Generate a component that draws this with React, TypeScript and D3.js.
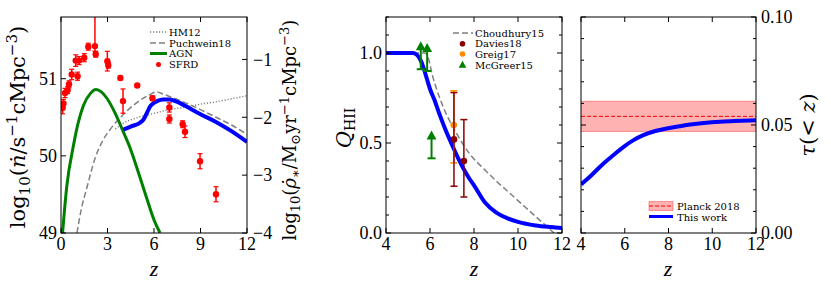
import React from "react";
import * as d3 from "d3";

// ---------------- Panel 1 data ----------------
const p1XTicks = [0, 3, 6, 9, 12];
const p1YTicksL = [49, 50, 51];
const p1YTicksR = [-4, -3, -2, -1];

const agnZ = [0.1, 0.37, 0.8, 1.1, 1.44, 1.9, 2.26, 2.6, 2.95, 3.5, 4.0, 4.5, 5.0, 5.5, 6.0, 6.39];
const agnN = [49.0, 49.6, 50.13, 50.42, 50.65, 50.81, 50.86, 50.83, 50.75, 50.55, 50.32, 50.08, 49.78, 49.47, 49.17, 49.0];

const puchZ = [1.03, 1.3, 1.66, 2.2, 2.7, 3.2, 3.7, 4.24, 4.7, 5.1, 5.7, 6.17, 6.6, 7.25, 8.0, 9.0, 10.0, 11.0, 12.0];
const puchN = [49.0, 49.3, 49.58, 49.97, 50.2, 50.35, 50.47, 50.58, 50.66, 50.72, 50.79, 50.83, 50.8, 50.75, 50.69, 50.6, 50.5, 50.4, 50.28];

const hmZ = [3.5, 4, 5, 6, 7, 8, 9, 10, 11, 12];
const hmN = [50.35, 50.42, 50.5, 50.55, 50.6, 50.63, 50.67, 50.7, 50.74, 50.78];

const thisZ = [4.02, 4.5, 5.1, 5.35, 5.55, 5.75, 5.95, 6.2, 6.6, 7.0, 7.5, 8.0, 9.0, 10.0, 11.0, 12.0];
const thisN = [50.34, 50.38, 50.43, 50.48, 50.56, 50.64, 50.68, 50.71, 50.73, 50.73, 50.7, 50.65, 50.54, 50.44, 50.32, 50.18];

const sfrdZ = [0.1, 0.16, 0.26, 0.43, 0.52, 0.69, 0.95, 1.07, 1.16, 1.5, 1.76, 2.19, 2.24, 2.99, 3.05, 3.83, 4.0, 4.92, 5.9, 6.99, 6.99, 7.85, 8.0, 8.97, 10.0];
const sfrdV = [-1.84, -1.76, -1.58, -1.53, -1.43, -1.26, -1.02, -1.29, -1.02, -0.97, -0.78, -0.77, -0.91, -1.03, -1.1, -1.32, -1.72, -1.45, -1.67, -1.83, -2.03, -2.12, -2.25, -2.76, -3.33];
const sfrdErrLo = [0.1, 0.07, 0.08, 0.06, 0.06, 0.09, 0.1, 0.07, 0.07, 0.07, 0.06, 0.09, 0.05, 0.17, 0.05, 0.03, 0.21, 0.03, 0.04, 0.08, 0.07, 0.06, 0.1, 0.13, 0.13];
const sfrdErrHi = [0.1, 0.07, 0.08, 0.06, 0.06, 0.09, 0.1, 0.07, 0.07, 0.07, 0.06, 0.6, 0.05, 0.17, 0.05, 0.03, 0.21, 0.03, 0.04, 0.08, 0.07, 0.06, 0.1, 0.13, 0.13];

// ---------------- Panel 2 data ----------------
const p2XTicks = [4, 6, 8, 10, 12];
const p2YLabels = ["0.0", "0.5", "1.0"];
const p2YLabelVals = [0, 0.5, 1.0];

const qZ = [4, 5.2, 5.4, 5.55, 5.7, 5.85, 6.0, 6.2, 6.4, 6.7, 7.0, 7.3, 7.6, 7.8, 8.0, 8.5, 9.0, 9.5, 10, 10.8, 11.5, 12];
const qQ = [1, 1, 0.99, 0.965, 0.92, 0.86, 0.8, 0.74, 0.67, 0.575, 0.49, 0.41, 0.34, 0.3, 0.265, 0.17, 0.115, 0.083, 0.062, 0.042, 0.033, 0.028];

const choZ = [4, 5.8, 5.95, 6.1, 6.3, 6.6, 7.2, 7.8, 8.5, 9.0, 9.5, 10.0, 10.5, 11.0, 11.5, 11.8];
const choQ = [1, 1, 0.96, 0.88, 0.8, 0.7, 0.555, 0.44, 0.35, 0.29, 0.235, 0.18, 0.125, 0.07, 0.015, -0.02];

const daviesZ = [7.09, 7.54];
const daviesQ = [0.52, 0.4];
const daviesLo = [0.26, 0.2];
const daviesHi = [0.78, 0.63];

const greigZ = [7.08];
const greigQ = [0.6];
const greigLo = [0.39];
const greigHi = [0.79];

const mcgZ = [5.58, 5.87, 6.07];
const mcgQ = [0.91, 0.9, 0.415];

// ---------------- Panel 3 data ----------------
const p3XTicks = [4, 6, 8, 10, 12];
const p3YLabels = ["0.00", "0.05", "0.10"];
const p3YLabelVals = [0, 0.05, 0.1];

const tauZ = [4, 4.5, 5.03, 5.5, 5.95, 6.4, 6.85, 7.4, 7.92, 8.5, 9.0, 10.35, 11, 12];
const tauV = [0.0225, 0.027, 0.0322, 0.0362, 0.0399, 0.043, 0.0453, 0.0472, 0.0484, 0.0494, 0.0502, 0.0515, 0.0518, 0.0522];

const planckTau = 0.054;
const planckSig = 0.007;

const FT = { fontFamily: "Liberation Serif" };
const FL = { fontFamily: "DejaVu Serif" };

const TOP = 17, BOT = 233;
const MAJ = 5, MIN = 3;

function Frame({ x0, x1 }: { x0: number; x1: number }) {
  return <rect x={x0} y={TOP} width={x1 - x0} height={BOT - TOP} fill="none" stroke="#000" strokeWidth={1} />;
}

function XTicks({ ticks, sx }: { ticks: number[]; sx: d3.ScaleLinear<number, number> }) {
  return (
    <g>
      {ticks.map((t) => (
        <g key={t}>
          <line x1={sx(t)} x2={sx(t)} y1={BOT} y2={BOT - MAJ} stroke="#000" strokeWidth={1} />
          <line x1={sx(t)} x2={sx(t)} y1={TOP} y2={TOP + MAJ} stroke="#000" strokeWidth={1} />
          <text x={sx(t)} y={250} textAnchor="middle" style={FT} fontSize={18}>
            {String(t)}
          </text>
        </g>
      ))}
    </g>
  );
}

function zip(a: number[], b: number[]): [number, number][] {
  return a.map((v, i) => [v, b[i]] as [number, number]);
}

export default function App() {
  const x1 = d3.scaleLinear().domain([0, 12]).range([61, 247]);
  const y1 = d3.scaleLinear().domain([49, 51.8]).range([BOT, TOP]);
  const y1r = d3.scaleLinear().domain([-4, -4 + (2.8 * 4) / 3]).range([BOT, TOP]);

  const x2 = d3.scaleLinear().domain([4, 12]).range([386, 562]);
  const y2 = d3.scaleLinear().domain([0, 1.2]).range([BOT, TOP]);

  const x3 = d3.scaleLinear().domain([4, 12]).range([581, 756]);
  const y3 = d3.scaleLinear().domain([0, 0.1]).range([BOT, TOP]);

  const l1 = d3.line<[number, number]>().x((d) => x1(d[0])).y((d) => y1(d[1])).curve(d3.curveMonotoneX);
  const l2 = d3.line<[number, number]>().x((d) => x2(d[0])).y((d) => y2(d[1])).curve(d3.curveMonotoneX);
  const l3 = d3.line<[number, number]>().x((d) => x3(d[0])).y((d) => y3(d[1])).curve(d3.curveMonotoneX);

  const p2Minor = d3.range(0, 13).map((i) => i / 10);
  const p3Minor = d3.range(0, 11).map((i) => i / 100);

  const tri = (cx: number, cy: number, s: number) =>
    `M${cx},${cy - s * 0.6}L${cx + s * 0.55},${cy + s * 0.4}L${cx - s * 0.55},${cy + s * 0.4}Z`;

  return (
    <svg width={831} height={290} style={{ position: "absolute", left: 0, top: 0, background: "#fff" }}>
      <defs>
        <clipPath id="c1"><rect x={61} y={TOP} width={186} height={BOT - TOP} /></clipPath>
        <clipPath id="c2"><rect x={386} y={TOP} width={176} height={BOT - TOP} /></clipPath>
        <clipPath id="c3"><rect x={581} y={TOP} width={175} height={BOT - TOP} /></clipPath>
      </defs>

      {/* ============ Panel 1 ============ */}
      <g clipPath="url(#c1)">
        <path d={l1(zip(hmZ, hmN)) || ""} fill="none" stroke="#808080" strokeWidth={1.4} strokeDasharray="1.2,1.8" />
        <path d={l1(zip(puchZ, puchN)) || ""} fill="none" stroke="#808080" strokeWidth={1.5} strokeDasharray="6,3" />
        <path d={l1(zip(agnZ, agnN)) || ""} fill="none" stroke="green" strokeWidth={3} />
        <path d={l1(zip(thisZ, thisN)) || ""} fill="none" stroke="blue" strokeWidth={4} />
        {sfrdZ.map((z, i) => {
          const cx = x1(z);
          const yc = y1r(sfrdV[i]);
          const yt = y1r(sfrdV[i] + sfrdErrHi[i]);
          const yb = y1r(sfrdV[i] - sfrdErrLo[i]);
          return (
            <g key={i}>
              <line x1={cx} x2={cx} y1={yt} y2={yb} stroke="red" strokeWidth={1.5} />
              <line x1={cx - 2.5} x2={cx + 2.5} y1={yt} y2={yt} stroke="red" strokeWidth={1.2} />
              <line x1={cx - 2.5} x2={cx + 2.5} y1={yb} y2={yb} stroke="red" strokeWidth={1.2} />
              <circle cx={cx} cy={yc} r={3.2} fill="red" />
            </g>
          );
        })}
      </g>
      <Frame x0={61} x1={247} />
      <XTicks ticks={p1XTicks} sx={x1} />
      {p1YTicksL.map((t) => (
        <g key={t}>
          <line x1={61} x2={61 + MAJ} y1={y1(t)} y2={y1(t)} stroke="#000" />
          <text x={57} y={y1(t)} dy="0.35em" textAnchor="end" style={FT} fontSize={18}>{String(t)}</text>
        </g>
      ))}
      {p1YTicksR.map((t) => (
        <g key={t}>
          <line x1={247} x2={247 - MAJ} y1={y1r(t)} y2={y1r(t)} stroke="#000" />
          <text x={253} y={y1r(t)} dy="0.35em" textAnchor="start" style={FT} fontSize={18}>{"\u2212" + Math.abs(t)}</text>
        </g>
      ))}
      {/* legend 1 */}
      <g style={FL} fontSize={10}>
        <line x1={150} x2={167} y1={32} y2={32} stroke="#808080" strokeWidth={1.4} strokeDasharray="1.2,1.8" />
        <text x={169} y={35.5}>HM12</text>
        <line x1={150} x2={167} y1={43} y2={43} stroke="#808080" strokeWidth={1.5} strokeDasharray="6,3" />
        <text x={169} y={46.5}>Puchwein18</text>
        <line x1={150} x2={167} y1={53.5} y2={53.5} stroke="green" strokeWidth={3} />
        <text x={169} y={57}>AGN</text>
        <circle cx={158.5} cy={64.5} r={2.5} fill="red" />
        <text x={169} y={68}>SFRD</text>
      </g>
      {/* axis labels 1 */}
      <text transform="translate(25,127) rotate(-90)" textAnchor="middle" style={FL} fontSize={21}>
        log<tspan fontSize={15} dy={5}>10</tspan>
        <tspan dy={-5}>(</tspan>
        <tspan fontStyle="italic">{"\u1E45"}</tspan>/s<tspan fontSize={15} dy={-8}>{"\u22121"}</tspan>
        <tspan dy={8}>cMpc</tspan>
        <tspan fontSize={15} dy={-8}>{"\u22123"}</tspan>
        <tspan dy={8}>)</tspan>
      </text>
      <text transform="translate(296,130) rotate(-90)" textAnchor="middle" style={FL} fontSize={18}>
        log<tspan fontSize={13} dy={4}>10</tspan>
        <tspan dy={-4}>(</tspan>
        <tspan fontStyle="italic">{"\u03C1\u0307"}</tspan>
        <tspan fontSize={13} dy={4}>{"\u2217"}</tspan>
        <tspan dy={-4}>/M</tspan>
        <tspan fontSize={13} dy={4}>{"\u2299"}</tspan>
        <tspan dy={-4}>yr</tspan>
        <tspan fontSize={13} dy={-7}>{"\u22121"}</tspan>
        <tspan dy={7}>cMpc</tspan>
        <tspan fontSize={13} dy={-7}>{"\u22123"}</tspan>
        <tspan dy={7}>)</tspan>
      </text>
      <text x={154} y={276} textAnchor="middle" style={FT} fontStyle="italic" fontSize={22}>z</text>

      {/* ============ Panel 2 ============ */}
      <g clipPath="url(#c2)">
        <path d={l2(zip(choZ, choQ)) || ""} fill="none" stroke="#808080" strokeWidth={1.5} strokeDasharray="6,3" />
        <path d={l2(zip(qZ, qQ)) || ""} fill="none" stroke="blue" strokeWidth={4} />
        {greigZ.map((z, i) => {
          const cx = x2(z);
          return (
            <g key={"g" + i}>
              <line x1={cx} x2={cx} y1={y2(greigHi[i])} y2={y2(greigLo[i])} stroke="darkorange" strokeWidth={1.5} />
              <line x1={cx - 3.5} x2={cx + 3.5} y1={y2(greigHi[i])} y2={y2(greigHi[i])} stroke="darkorange" strokeWidth={1.5} />
              <line x1={cx - 3.5} x2={cx + 3.5} y1={y2(greigLo[i])} y2={y2(greigLo[i])} stroke="darkorange" strokeWidth={1.5} />
              <circle cx={cx} cy={y2(greigQ[i])} r={3.3} fill="darkorange" />
            </g>
          );
        })}
        {daviesZ.map((z, i) => {
          const cx = x2(z);
          return (
            <g key={"d" + i}>
              <line x1={cx} x2={cx} y1={y2(daviesHi[i])} y2={y2(daviesLo[i])} stroke="darkred" strokeWidth={1.5} />
              <line x1={cx - 3.5} x2={cx + 3.5} y1={y2(daviesHi[i])} y2={y2(daviesHi[i])} stroke="darkred" strokeWidth={1.5} />
              <line x1={cx - 3.5} x2={cx + 3.5} y1={y2(daviesLo[i])} y2={y2(daviesLo[i])} stroke="darkred" strokeWidth={1.5} />
              <circle cx={cx} cy={y2(daviesQ[i])} r={3.3} fill="darkred" />
            </g>
          );
        })}
        {mcgZ.map((z, i) => {
          const cx = x2(z);
          const yb = y2(mcgQ[i]);
          const yt = y2(mcgQ[i] + 0.125);
          return (
            <g key={"m" + i}>
              <line x1={cx} x2={cx} y1={yb} y2={yt} stroke="green" strokeWidth={2} />
              <line x1={cx - 4} x2={cx + 4} y1={yb} y2={yb} stroke="green" strokeWidth={2} />
              <path d={tri(cx, yt, 9)} fill="green" />
            </g>
          );
        })}
      </g>
      <Frame x0={386} x1={562} />
      <XTicks ticks={p2XTicks} sx={x2} />
      {p2Minor.map((t, i) => {
        const major = i % 5 === 0;
        const L = major ? MAJ : MIN;
        return (
          <g key={i}>
            <line x1={386} x2={386 + L} y1={y2(t)} y2={y2(t)} stroke="#000" />
            <line x1={562} x2={562 - L} y1={y2(t)} y2={y2(t)} stroke="#000" />
          </g>
        );
      })}
      {p2YLabelVals.map((v, i) => (
        <text key={i} x={382} y={y2(v)} dy="0.35em" textAnchor="end" style={FT} fontSize={18}>{p2YLabels[i]}</text>
      ))}
      {/* legend 2 */}
      <g style={FL} fontSize={10}>
        <line x1={453} x2={473} y1={33} y2={33} stroke="#808080" strokeWidth={1.5} strokeDasharray="6,3" />
        <text x={475} y={36.5}>Choudhury15</text>
        <circle cx={462.5} cy={43.7} r={2.8} fill="darkred" />
        <text x={475} y={47.2}>Davies18</text>
        <circle cx={462.5} cy={54} r={2.8} fill="darkorange" />
        <text x={475} y={57.5}>Greig17</text>
        <path d={tri(462.5, 65, 7)} fill="green" />
        <text x={475} y={68.5}>McGreer15</text>
      </g>
      <text transform="translate(351,128) rotate(-90)" textAnchor="middle" style={FL} fontSize={21}>
        <tspan fontStyle="italic">Q</tspan>
        <tspan fontSize={14} dy={4}>HII</tspan>
      </text>
      <text x={474} y={276} textAnchor="middle" style={FT} fontStyle="italic" fontSize={22}>z</text>

      {/* ============ Panel 3 ============ */}
      <g clipPath="url(#c3)">
        <rect x={581} width={175} y={y3(planckTau + planckSig)} height={y3(planckTau - planckSig) - y3(planckTau + planckSig)} fill="red" fillOpacity={0.3} />
        <line x1={581} x2={756} y1={y3(planckTau + planckSig)} y2={y3(planckTau + planckSig)} stroke="red" strokeOpacity={0.35} />
        <line x1={581} x2={756} y1={y3(planckTau - planckSig)} y2={y3(planckTau - planckSig)} stroke="red" strokeOpacity={0.35} />
        <line x1={581} x2={756} y1={y3(planckTau)} y2={y3(planckTau)} stroke="red" strokeWidth={1} strokeDasharray="4,2" />
        <path d={l3(zip(tauZ, tauV)) || ""} fill="none" stroke="blue" strokeWidth={4} />
      </g>
      <Frame x0={581} x1={756} />
      <XTicks ticks={p3XTicks} sx={x3} />
      {p3Minor.map((t, i) => {
        const major = i % 5 === 0;
        const L = major ? MAJ : MIN;
        return (
          <g key={i}>
            <line x1={581} x2={581 + L} y1={y3(t)} y2={y3(t)} stroke="#000" />
            <line x1={756} x2={756 - L} y1={y3(t)} y2={y3(t)} stroke="#000" />
          </g>
        );
      })}
      {p3YLabelVals.map((v, i) => (
        <text key={i} x={761} y={y3(v)} dy="0.35em" textAnchor="start" style={FT} fontSize={18}>{p3YLabels[i]}</text>
      ))}
      {/* legend 3 */}
      <g style={FL} fontSize={10}>
        <rect x={649} y={201.5} width={24} height={9} fill="red" fillOpacity={0.3} stroke="red" strokeOpacity={0.35} />
        <line x1={649} x2={673} y1={206} y2={206} stroke="red" strokeDasharray="4,2" />
        <text x={677} y={210}>Planck 2018</text>
        <line x1={649} x2={673} y1={216.5} y2={216.5} stroke="blue" strokeWidth={3} />
        <text x={677} y={220.5}>This work</text>
      </g>
      <text transform="translate(815,125) rotate(-90)" textAnchor="middle" style={FL} fontSize={21}>
        <tspan fontStyle="italic">{"\u03C4"}</tspan>(&lt; <tspan fontStyle="italic">z</tspan>)
      </text>
      <text x={668} y={276} textAnchor="middle" style={FT} fontStyle="italic" fontSize={22}>z</text>
    </svg>
  );
}
